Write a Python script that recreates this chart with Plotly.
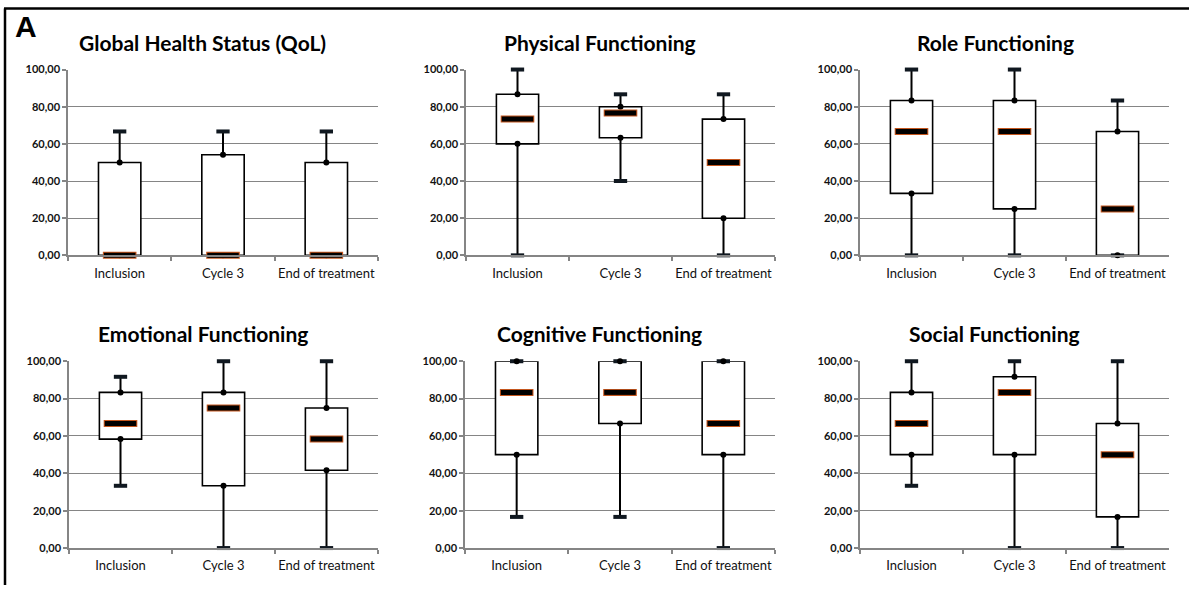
import plotly.graph_objects as go

categories = ["Inclusion", "Cycle 3", "End of treatment"]
titles = ["Global Health Status (QoL)", "Physical Functioning", "Role Functioning",
          "Emotional Functioning", "Cognitive Functioning", "Social Functioning"]
y_ticks = [0, 20, 40, 60, 80, 100]

# Global Health Status (QoL)
ghs_min = [0, 0, 0]
ghs_q1 = [0, 0, 0]
ghs_med = [0, 0, 0]
ghs_q3 = [50, 54.17, 50]
ghs_max = [66.67, 66.67, 66.67]

# Physical Functioning
pf_min = [0, 40, 0]
pf_q1 = [60, 63.33, 20]
pf_med = [73.33, 76.67, 50]
pf_q3 = [86.67, 80, 73.33]
pf_max = [100, 86.67, 86.67]

# Role Functioning
rf_min = [0, 0, 0]
rf_q1 = [33.33, 25, 0]
rf_med = [66.67, 66.67, 25]
rf_q3 = [83.33, 83.33, 66.67]
rf_max = [100, 100, 83.33]

# Emotional Functioning
ef_min = [33.33, 0, 0]
ef_q1 = [58.33, 33.33, 41.67]
ef_med = [66.67, 75, 58.33]
ef_q3 = [83.33, 83.33, 75]
ef_max = [91.67, 100, 100]

# Cognitive Functioning
cf_min = [16.67, 16.67, 0]
cf_q1 = [50, 66.67, 50]
cf_med = [83.33, 83.33, 66.67]
cf_q3 = [100, 100, 100]
cf_max = [100, 100, 100]

# Social Functioning
sf_min = [33.33, 0, 0]
sf_q1 = [50, 50, 16.67]
sf_med = [66.67, 83.33, 50]
sf_q3 = [83.33, 91.67, 66.67]
sf_max = [100, 100, 100]

panels = [
    (ghs_min, ghs_q1, ghs_med, ghs_q3, ghs_max),
    (pf_min, pf_q1, pf_med, pf_q3, pf_max),
    (rf_min, rf_q1, rf_med, rf_q3, rf_max),
    (ef_min, ef_q1, ef_med, ef_q3, ef_max),
    (cf_min, cf_q1, cf_med, cf_q3, cf_max),
    (sf_min, sf_q1, sf_med, sf_q3, sf_max),
]

W, H = 1189, 591


def ly(y):
    # convert target screen y (px) to layout y (px)
    return (y - 6.4) / 0.979


# pixel layout of plot areas (target screen positions)
x_px = [(68, 378), (466, 775), (860, 1169), (69, 378), (465, 775), (860, 1169)]
y_px = [(69, 255)] * 3 + [(361, 548)] * 3
title_x_px = [202, 600, 995, 203, 599, 994]
title_y_px = [42, 42, 42, 333, 333, 333]

FONT = "Lato"
GRID = "#858585"

fig = go.Figure()
layout = dict(
    width=W, height=H, autosize=False, margin=dict(l=0, r=0, t=0, b=0),
    paper_bgcolor="white", plot_bgcolor="white",
    showlegend=False, separators=",.",
    font=dict(family=FONT, color="black"),
    annotations=[], shapes=[],
)

for i, (mn, q1, med, q3, mx) in enumerate(panels):
    n = i + 1
    xa = "x" if n == 1 else f"x{n}"
    ya = "y" if n == 1 else f"y{n}"
    # box
    fig.add_trace(go.Bar(
        x=categories, base=q1, y=[b - a for a, b in zip(q1, q3)],
        width=0.41, marker=dict(color="white", line=dict(color="black", width=1.6)),
        xaxis=xa, yaxis=ya, hoverinfo="skip"))
    # whiskers
    wx, wy = [], []
    for c, a, b, lo, hi in zip(categories, q1, q3, mn, mx):
        wx += [c, c, None, c, c, None]
        wy += [b, hi, None, a, lo, None]
    fig.add_trace(go.Scatter(x=wx, y=wy, mode="lines",
                             line=dict(color="black", width=2),
                             xaxis=xa, yaxis=ya, hoverinfo="skip", cliponaxis=False))
    # caps
    fig.add_trace(go.Scatter(x=categories + categories, y=mx + mn, mode="markers",
                             marker=dict(symbol="line-ew", size=9.5,
                                         line=dict(color="#101820", width=4)),
                             xaxis=xa, yaxis=ya, hoverinfo="skip", cliponaxis=False))
    # quartile dots
    fig.add_trace(go.Scatter(x=categories + categories, y=q1 + q3, mode="markers",
                             marker=dict(symbol="circle", size=6, color="black"),
                             xaxis=xa, yaxis=ya, hoverinfo="skip", cliponaxis=False))
    # median: orange outline + black bar
    fig.add_trace(go.Scatter(x=categories, y=med, mode="markers",
                             marker=dict(symbol="line-ew", size=24,
                                         line=dict(color="#c4561e", width=7)),
                             xaxis=xa, yaxis=ya, hoverinfo="skip", cliponaxis=False))
    fig.add_trace(go.Scatter(x=categories, y=med, mode="markers",
                             marker=dict(symbol="line-ew", size=22.5,
                                         line=dict(color="black", width=5)),
                             xaxis=xa, yaxis=ya, hoverinfo="skip", cliponaxis=False))

    x0, x1 = x_px[i]
    y0, y1 = y_px[i]
    layout["xaxis" if n == 1 else f"xaxis{n}"] = dict(
        domain=[x0 / W, x1 / W], anchor=ya, type="category",
        range=[-0.5, 2.5], showgrid=False, showline=True, linecolor=GRID, linewidth=1.5,
        ticks="outside", tickson="boundaries", ticklen=4, tickcolor=GRID, tickwidth=1.5,
        ticklabelstandoff=5, tickangle=0,
        tickfont=dict(family=FONT, size=13, color="#111"), fixedrange=True,
    )
    layout["yaxis" if n == 1 else f"yaxis{n}"] = dict(
        domain=[1 - ly(y1) / H, 1 - ly(y0) / H], anchor=xa, range=[0, 100],
        tickvals=y_ticks, tickformat=".2f", showgrid=True, gridcolor=GRID, gridwidth=1.4,
        showline=True, linecolor=GRID, linewidth=1.5, zeroline=False,
        ticks="outside", ticklen=4, tickcolor=GRID, tickwidth=1.5,
        tickfont=dict(family=FONT, size=11, color="#111", weight="bold"), fixedrange=True,
    )
    layout["annotations"].append(dict(
        text=titles[i], xref="paper", yref="paper",
        x=title_x_px[i] / W, y=1 - ly(title_y_px[i]) / H, xanchor="center", yanchor="middle",
        showarrow=False, font=dict(family=FONT, size=21, color="black", weight="bold")))

layout["annotations"].append(dict(
    text="A", xref="paper", yref="paper", x=13 / W, y=1 - ly(26) / H,
    xanchor="left", yanchor="middle", showarrow=False,
    font=dict(family="Liberation Sans", size=30, color="black", weight="bold")))

# outer frame (top and left edges)
top_y = 1 - max(ly(7), 1.5) / H
layout["shapes"] += [
    dict(type="line", xref="paper", yref="paper", x0=4 / W, x1=1, y0=top_y, y1=top_y,
         line=dict(color="black", width=2.5)),
    dict(type="line", xref="paper", yref="paper", x0=5 / W, x1=5 / W, y0=0, y1=top_y,
         line=dict(color="black", width=2.5)),
]

fig.update_layout(**layout)

page_fix = (
    "document.documentElement.style.margin='0';"
    "document.documentElement.style.overflow='hidden';"
    "document.body.style.margin='0';"
    "document.body.style.overflow='hidden';"
    "var gd=document.getElementById('{plot_id}');"
    "gd.style.position='fixed';gd.style.left='0px';gd.style.top='0px';"
)
fig.write_html("out.html",
               config={"responsive": False, "displayModeBar": False},
               post_script=page_fix)
